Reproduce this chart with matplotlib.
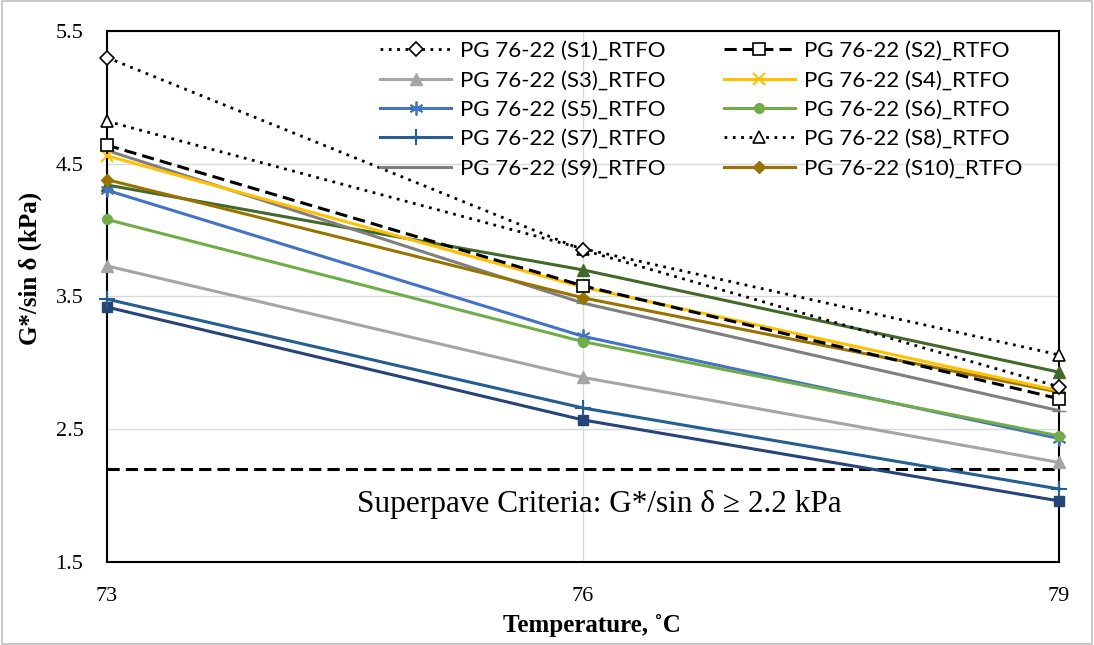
import matplotlib.pyplot as plt
from matplotlib.patches import Rectangle

temps = [73, 76, 79]

s1 = [5.30, 3.85, 2.82]
s2 = [4.64, 3.58, 2.73]
s3 = [3.73, 2.89, 2.25]
s4 = [4.56, 3.57, 2.79]
s5 = [4.30, 3.20, 2.43]
s6 = [4.08, 3.16, 2.45]
s7 = [3.48, 2.66, 2.05]
s8 = [4.82, 3.86, 3.06]
s9 = [4.60, 3.45, 2.64]
s10 = [4.38, 3.49, 2.78]
s11 = [4.34, 3.70, 2.93]   # drawn but not in legend
s12 = [3.42, 2.57, 1.96]   # drawn but not in legend
criteria = 2.2

labels = ["PG 76-22 (S%d)_RTFO" % i for i in range(1, 11)]

serif = "Liberation Serif"
plt.rcParams["font.family"] = serif

W, H = 1094, 645
fig = plt.figure(figsize=(W / 100, H / 100), dpi=100)
ax = fig.add_axes([0.0978, 0.1287, 0.8702, 0.8233])
fig.patches.append(Rectangle((0.002, 0.002), 0.996, 0.996, transform=fig.transFigure,
                             fill=False, edgecolor="#bfbfbf", lw=1.2))

lw = 2.2
kw = dict(lw=lw, clip_on=False, zorder=3)
h = {}
# background series (not in legend)
ax.plot(temps, s12, color="#264478", marker="s", ms=7, **kw)
ax.plot(temps, s11, color="#43682B", marker="^", ms=8, **kw)

h[2] = ax.plot(temps, s3, color="#A5A5A5", marker="^", ms=8, **kw)[0]
h[6] = ax.plot(temps, s7, color="#255E91", marker="+", ms=11, mew=1.5, **kw)[0]
h[4] = ax.plot(temps, s5, color="#4472C4", marker=(6, 2, 0), ms=10, mew=1.3, **kw)[0]
h[5] = ax.plot(temps, s6, color="#70AD47", marker="o", ms=7, **kw)[0]
h[8] = ax.plot(temps, s9, color="#7F7F7F", marker="_", ms=10, **kw)[0]
h[9] = ax.plot(temps, s10, color="#997300", marker="D", ms=6, **kw)[0]
h[3] = ax.plot(temps, s4, color="#FFC000", marker="x", ms=8, mew=1.5, **kw)[0]
kw2 = dict(clip_on=False, zorder=3, color="black", mfc="white", mew=1.2)
h[1] = ax.plot(temps, s2, lw=lw, ls=(0, (4, 2)), marker="s", ms=8, **kw2)[0]
h[7] = ax.plot(temps, s8, lw=2, ls=(0, (1, 2)), marker="^", ms=9, **kw2)[0]
h[0] = ax.plot(temps, s1, lw=2, ls=(0, (1, 2)), marker="D", ms=7, **kw2)[0]

ax.axhline(criteria, color="black", lw=2.2, ls=(0, (4, 2)))
ax.text(76.1, 1.93, "Superpave Criteria: G*/sin \u03b4 \u2265 2.2 kPa",
        ha="center", va="center", fontsize=22.5, family=serif)

ax.set_xlim(73, 79)
ax.set_ylim(1.5, 5.5)
ax.set_xticks(temps)
ax.set_yticks([1.5, 2.5, 3.5, 4.5, 5.5])
ax.tick_params(labelsize=16, length=0)
ax.tick_params(axis="y", pad=17)
ax.tick_params(axis="x", pad=18)
ax.grid(color="#d9d9d9", lw=1)
ax.set_axisbelow(True)
for sp in ax.spines.values():
    sp.set_linewidth(1.5)
    sp.set_color("black")

fig.text(592 / W, 1 - 625 / H, "Temperature, \u02daC", fontsize=18, fontweight="bold",
         ha="center", va="center")
fig.text(30 / W, 1 - 268 / H, "G*/sin \u03b4 (kPa)", fontsize=18, fontweight="bold",
         ha="center", va="center", rotation=90)

# legend fills column-wise; reference reads row-wise
order = [0, 2, 4, 6, 8, 1, 3, 5, 7, 9]
handles = [h[i] for i in order]
leg = ax.legend(handles, [labels[i] for i in order], ncol=2, loc="upper left",
                bbox_to_anchor=(0.273, 1.006), frameon=False,
                prop={"family": "Lato", "size": 16},
                handlelength=3.2, handletextpad=0.4, columnspacing=2.6,
                labelspacing=0.42, borderaxespad=0.2)

fig.savefig("out.png", dpi=100)
